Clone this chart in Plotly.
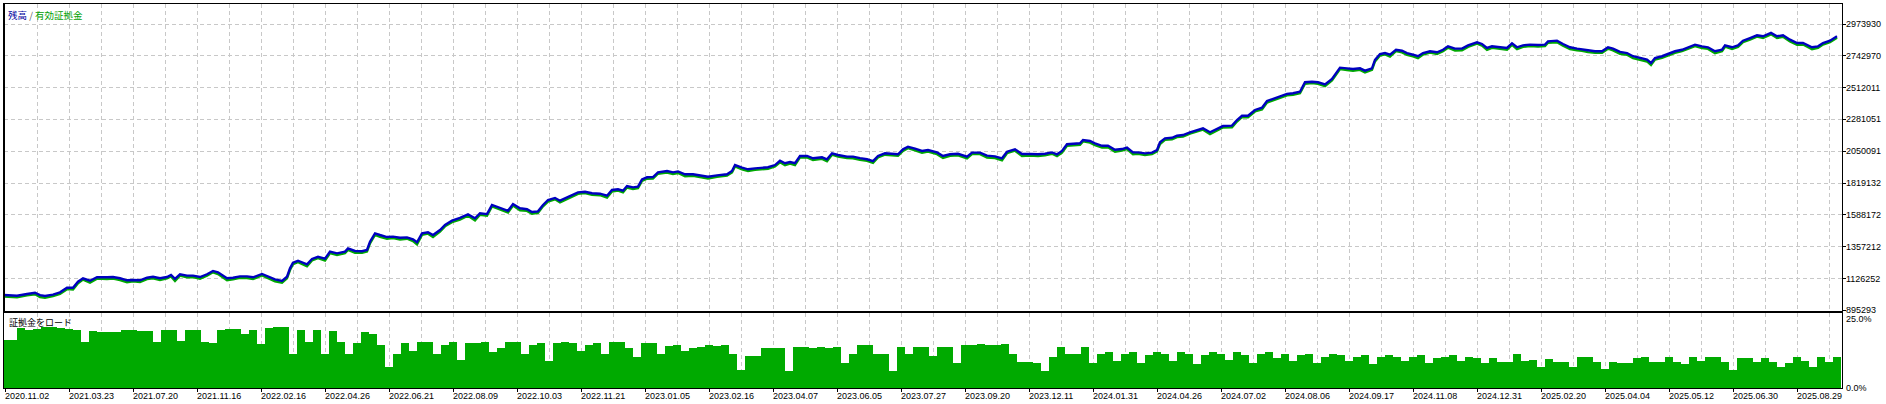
import plotly.graph_objects as go

# ---------------- data ----------------
trade_no = [0, 13, 23, 31, 36, 41, 49, 56, 63, 69,
            74, 79, 86, 93, 103, 109, 116, 123, 129, 136,
            143, 149, 156, 163, 167, 171, 176, 183, 189, 196,
            203, 209, 214, 223, 229, 236, 243, 249, 258, 264,
            271, 278, 283, 286, 289, 294, 299, 303, 308, 314,
            321, 326, 333, 341, 344, 351, 358, 363, 366, 371,
            376, 383, 389, 396, 403, 409, 413, 418, 424, 429,
            436, 441, 448, 456, 464, 471, 476, 483, 488, 496,
            504, 509, 516, 523, 528, 534, 539, 544, 551, 556,
            561, 566, 574, 581, 588, 596, 603, 608, 614, 619,
            623, 629, 634, 638, 643, 649, 654, 663, 669, 674,
            681, 689, 696, 704, 713, 723, 728, 731, 738, 744,
            751, 758, 764, 771, 776, 781, 786, 791, 796, 803,
            809, 818, 823, 828, 834, 843, 849, 856, 863, 869,
            874, 881, 888, 894, 899, 904, 911, 918, 924, 933,
            939, 946, 954, 963, 968, 976, 983, 991, 998, 1003,
            1011, 1018, 1026, 1034, 1041, 1048, 1053, 1058, 1063, 1069,
            1076, 1079, 1086, 1091, 1098, 1104, 1111, 1118, 1123, 1129,
            1134, 1141, 1148, 1153, 1156, 1161, 1168, 1173, 1179, 1186,
            1193, 1199, 1206, 1213, 1219, 1228, 1233, 1238, 1244, 1251,
            1258, 1263, 1269, 1276, 1283, 1289, 1296, 1301, 1308, 1314,
            1321, 1328, 1333, 1336, 1343, 1349, 1356, 1361, 1368, 1371,
            1376, 1381, 1386, 1392, 1398, 1403, 1409, 1414, 1419, 1426,
            1433, 1439, 1444, 1451, 1458, 1464, 1473, 1478, 1483, 1488,
            1494, 1503, 1508, 1513, 1519, 1526, 1534, 1541, 1544, 1553,
            1559, 1566, 1573, 1578, 1584, 1591, 1598, 1604, 1609, 1616,
            1623, 1629, 1636, 1643, 1647, 1651, 1658, 1664, 1671, 1678,
            1684, 1691, 1698, 1704, 1711, 1718, 1721, 1728, 1734, 1739,
            1746, 1753, 1759, 1767, 1773, 1779, 1786, 1793, 1799, 1808,
            1814, 1819, 1826, 1833]

balance = [1006000, 1001000, 1014000, 1023000, 1006000, 999000, 1009000, 1026000, 1059000, 1059000,
           1103000, 1128000, 1110000, 1135000, 1135000, 1137000, 1128000, 1113000, 1115000, 1113000,
           1132000, 1139000, 1128000, 1137000, 1152000, 1123000, 1157000, 1147000, 1147000, 1137000,
           1157000, 1181000, 1171000, 1128000, 1132000, 1142000, 1142000, 1135000, 1159000, 1142000,
           1120000, 1108000, 1139000, 1200000, 1241000, 1255000, 1241000, 1229000, 1268000, 1284000,
           1270000, 1321000, 1309000, 1321000, 1345000, 1326000, 1324000, 1333000, 1393000, 1454000,
           1442000, 1427000, 1430000, 1422000, 1425000, 1411000, 1389000, 1454000, 1462000, 1442000,
           1478000, 1515000, 1546000, 1566000, 1592000, 1563000, 1600000, 1594000, 1660000, 1640000,
           1618000, 1667000, 1636000, 1629000, 1609000, 1614000, 1660000, 1696000, 1711000, 1691000,
           1708000, 1725000, 1752000, 1756000, 1745000, 1742000, 1727000, 1769000, 1774000, 1764000,
           1798000, 1788000, 1793000, 1846000, 1861000, 1863000, 1897000, 1907000, 1897000, 1904000,
           1883000, 1883000, 1873000, 1865000, 1875000, 1883000, 1907000, 1950000, 1931000, 1919000,
           1926000, 1931000, 1934000, 1950000, 1981000, 1963000, 1972000, 1963000, 2016000, 2016000,
           1999000, 2006000, 1992000, 2035000, 2023000, 2011000, 2011000, 2000000, 1992000, 1979000,
           2016000, 2035000, 2030000, 2028000, 2064000, 2083000, 2069000, 2052000, 2059000, 2042000,
           2016000, 2028000, 2032000, 2011000, 2040000, 2040000, 2018000, 2013000, 1999000, 2047000,
           2064000, 2030000, 2030000, 2028000, 2032000, 2042000, 2028000, 2052000, 2101000, 2103000,
           2108000, 2132000, 2125000, 2108000, 2090000, 2090000, 2061000, 2066000, 2076000, 2042000,
           2042000, 2035000, 2040000, 2059000, 2115000, 2144000, 2148000, 2163000, 2168000, 2188000,
           2204000, 2217000, 2188000, 2212000, 2233000, 2236000, 2277000, 2308000, 2308000, 2350000,
           2366000, 2415000, 2430000, 2446000, 2466000, 2471000, 2482000, 2551000, 2555000, 2551000,
           2536000, 2575000, 2623000, 2657000, 2652000, 2647000, 2652000, 2635000, 2652000, 2713000,
           2756000, 2763000, 2751000, 2787000, 2780000, 2763000, 2751000, 2740000, 2763000, 2776000,
           2769000, 2787000, 2812000, 2795000, 2795000, 2819000, 2841000, 2829000, 2800000, 2812000,
           2807000, 2800000, 2834000, 2805000, 2819000, 2824000, 2822000, 2824000, 2848000, 2853000,
           2829000, 2805000, 2795000, 2792000, 2783000, 2776000, 2776000, 2805000, 2795000, 2771000,
           2763000, 2740000, 2727000, 2715000, 2691000, 2727000, 2740000, 2756000, 2776000, 2787000,
           2805000, 2824000, 2812000, 2805000, 2776000, 2787000, 2819000, 2805000, 2819000, 2853000,
           2872000, 2892000, 2885000, 2909000, 2885000, 2892000, 2860000, 2836000, 2836000, 2805000,
           2812000, 2836000, 2853000, 2885000]

equity = [995000, 989000, 1004000, 1012000, 992000, 987000, 999000, 1015000, 1049000, 1046000,
          1092000, 1118000, 1096000, 1125000, 1123000, 1126000, 1115000, 1099000, 1105000, 1101000,
          1122000, 1128000, 1115000, 1127000, 1141000, 1109000, 1147000, 1135000, 1136000, 1124000,
          1146000, 1171000, 1158000, 1114000, 1121000, 1132000, 1130000, 1122000, 1149000, 1129000,
          1106000, 1095000, 1128000, 1188000, 1230000, 1245000, 1228000, 1215000, 1257000, 1274000,
          1257000, 1310000, 1296000, 1311000, 1334000, 1312000, 1312000, 1322000, 1381000, 1443000,
          1429000, 1415000, 1419000, 1410000, 1415000, 1398000, 1374000, 1443000, 1452000, 1428000,
          1467000, 1505000, 1535000, 1554000, 1582000, 1548000, 1589000, 1582000, 1649000, 1626000,
          1605000, 1656000, 1622000, 1617000, 1596000, 1603000, 1650000, 1685000, 1701000, 1678000,
          1697000, 1715000, 1741000, 1746000, 1733000, 1731000, 1713000, 1758000, 1764000, 1752000,
          1787000, 1775000, 1782000, 1834000, 1851000, 1852000, 1887000, 1896000, 1884000, 1892000,
          1869000, 1872000, 1861000, 1852000, 1864000, 1873000, 1896000, 1940000, 1918000, 1907000,
          1915000, 1919000, 1923000, 1940000, 1970000, 1949000, 1961000, 1950000, 2006000, 2005000,
          1986000, 1995000, 1978000, 2025000, 2011000, 2000000, 1999000, 1987000, 1980000, 1965000,
          2005000, 2025000, 2018000, 2017000, 2053000, 2073000, 2056000, 2039000, 2048000, 2029000,
          2002000, 2017000, 2021000, 1998000, 2030000, 2029000, 2005000, 2001000, 1985000, 2036000,
          2054000, 2016000, 2019000, 2016000, 2021000, 2032000, 2015000, 2041000, 2090000, 2093000,
          2097000, 2122000, 2113000, 2095000, 2077000, 2079000, 2047000, 2055000, 2066000, 2028000,
          2031000, 2023000, 2029000, 2049000, 2103000, 2133000, 2137000, 2153000, 2157000, 2178000,
          2193000, 2207000, 2174000, 2201000, 2223000, 2224000, 2266000, 2298000, 2296000, 2339000,
          2354000, 2404000, 2420000, 2435000, 2456000, 2459000, 2471000, 2540000, 2545000, 2539000,
          2523000, 2564000, 2612000, 2647000, 2640000, 2635000, 2641000, 2622000, 2641000, 2702000,
          2745000, 2753000, 2738000, 2777000, 2768000, 2750000, 2739000, 2726000, 2752000, 2766000,
          2757000, 2776000, 2802000, 2782000, 2783000, 2808000, 2831000, 2817000, 2786000, 2801000,
          2795000, 2787000, 2823000, 2791000, 2808000, 2814000, 2810000, 2813000, 2838000, 2842000,
          2816000, 2791000, 2783000, 2780000, 2770000, 2764000, 2765000, 2795000, 2782000, 2757000,
          2751000, 2726000, 2714000, 2702000, 2676000, 2716000, 2729000, 2746000, 2765000, 2777000,
          2794000, 2814000, 2800000, 2793000, 2762000, 2776000, 2809000, 2792000, 2808000, 2843000,
          2861000, 2882000, 2873000, 2899000, 2872000, 2881000, 2847000, 2823000, 2825000, 2791000,
          2800000, 2825000, 2842000, 2875000]

# margin load (%), one bar per 8 deals
margin_load = [
    16.1, 16.1, 20.1, 19.4, 19.8, 20.3, 20.3, 20.1, 19.8, 19.4,
    15.3, 18.9, 18.6, 18.8, 18.8, 19.2, 19.2, 18.9, 18.9, 15.5,
    19.4, 19.4, 15.8, 19.4, 19.5, 15.3, 15.0, 19.2, 19.7, 19.7,
    18.0, 19.4, 14.7, 20.1, 20.3, 20.5, 11.4, 19.2, 15.5, 19.2,
    11.4, 18.9, 15.3, 11.4, 14.9, 18.6, 18.0, 14.2, 6.9, 11.4,
    15.0, 12.5, 15.5, 15.5, 11.5, 14.5, 15.5, 9.5, 15.0, 15.0,
    15.5, 12.0, 13.5, 15.5, 15.5, 11.5, 14.5, 15.0, 9.0, 15.0,
    15.5, 15.0, 12.5, 14.5, 15.0, 11.5, 15.5, 15.5, 13.5, 10.5,
    15.0, 15.0, 11.5, 14.0, 14.5, 12.5, 13.5,
    13.8, 14.2, 14.1, 14.2, 11.4, 6.1, 10.8, 10.8, 13.4, 13.4,
    13.4, 5.6, 13.8, 13.8, 13.4, 13.8, 13.4, 13.6, 8.3, 11.4,
    14.2, 14.4, 11.4, 11.2, 5.8, 13.6, 11.2, 13.6, 13.8, 10.8,
    13.6, 13.6, 8.3, 14.4, 14.5, 14.7, 14.5, 14.2, 14.7, 11.4,
    8.6, 8.6, 8.3, 5.8, 10.5, 13.8, 11.4, 11.4, 13.8, 8.3,
    11.5, 12.0, 9.0, 11.5, 12.0, 8.5, 11.0, 12.0, 11.5, 9.0,
    12.0, 11.5, 8.0, 11.0, 12.0, 11.5, 9.5, 12.0, 11.0, 8.5,
    11.5, 12.0, 10.0, 11.5, 9.0, 11.0, 11.5, 8.5, 10.5, 11.5,
    11.0, 9.0, 10.5, 11.0, 8.0, 10.5, 11.0, 10.5, 9.0, 10.5,
    11.0, 8.5, 10.0, 10.5, 11.0, 9.0, 10.5, 10.0, 8.5, 10.0,
    8.6, 8.6, 11.2, 8.9, 9.4, 6.9, 9.7, 8.6, 8.6, 6.9,
    10.5, 10.3, 8.6, 6.4, 8.6, 8.3, 8.3, 10.1, 10.5, 8.6,
    8.6, 10.3, 8.6, 8.1, 10.3, 8.9, 10.3, 10.5, 8.6, 6.0,
    10.1, 10.1, 8.6, 10.1, 8.6, 6.9, 8.3, 10.3, 8.9, 6.9,
    10.3, 8.6, 10.3]
bar_trade = [1 + 8 * i for i in range(len(margin_load))]

date_labels = ["2020.11.02", "2021.03.23", "2021.07.20", "2021.11.16", "2022.02.16",
               "2022.04.26", "2022.06.21", "2022.08.09", "2022.10.03", "2022.11.21",
               "2023.01.05", "2023.02.16", "2023.04.07", "2023.06.05", "2023.07.27",
               "2023.09.20", "2023.12.11", "2024.01.31", "2024.04.26", "2024.07.02",
               "2024.08.06", "2024.09.17", "2024.11.08", "2024.12.31", "2025.02.20",
               "2025.04.04", "2025.05.12", "2025.06.30", "2025.08.29"]
date_ticks = [1 + 64 * i for i in range(len(date_labels))]
grid_minor = [33 + 64 * i for i in range(len(date_labels))]

y_ticks = [895293, 1126252, 1357212, 1588172, 1819132, 2050091,
           2281051, 2512011, 2742970, 2973930]
load_ticks = [0, 25]
load_labels = ["0.0%", "25.0%"]

# ---------------- style ----------------
BLUE = "#0000C0"
GREEN = "#00AA00"
GRID = "#C8C8C8"
FONT = "Liberation Sans, Arial, sans-serif"
CJK = "Noto Sans CJK JP, sans-serif"

fig = go.Figure()
fig.add_trace(go.Scatter(x=trade_no, y=equity, mode="lines",
                         line=dict(color=GREEN, width=2.4), xaxis="x", yaxis="y",
                         hoverinfo="skip", showlegend=False))
fig.add_trace(go.Scatter(x=trade_no, y=balance, mode="lines",
                         line=dict(color=BLUE, width=2.4), xaxis="x", yaxis="y",
                         showlegend=False))
fig.add_trace(go.Bar(x=bar_trade, y=margin_load, width=8,
                     marker=dict(color=GREEN, line=dict(width=0)),
                     xaxis="x2", yaxis="y2", showlegend=False))

xcommon = dict(range=[0, 1838], showgrid=True, gridcolor=GRID, gridwidth=1,
               griddash="4px,3px", zeroline=False, showline=True, mirror=True,
               linecolor="black", linewidth=1, tickvals=date_ticks,
               showticklabels=False,
               minor=dict(tickvals=grid_minor, showgrid=True, gridcolor=GRID,
                          griddash="4px,3px", gridwidth=1, ticks=""))

annotations = [
    dict(xref="paper", yref="paper", x=0, y=1, xanchor="left", yanchor="top",
         xshift=2, yshift=-2, showarrow=False,
         text='<span style="color:#0000A0">残高</span>'
              '<span style="color:#606060"> / </span>'
              '<span style="color:#00A000">有効証拠金</span>',
         font=dict(family=CJK, size=9.5)),
    dict(xref="paper", yref="paper", x=0, y=0.1953, xanchor="left",
         yanchor="top", xshift=3, yshift=-1, showarrow=False,
         text="証拠金をロード", font=dict(family=CJK, size=9, color="black")),
]
# y-axis value labels of the main panel (right side)
for v in y_ticks:
    annotations.append(dict(xref="paper", yref="y", x=1, y=v, xanchor="left",
                            yanchor="middle", xshift=2, showarrow=False,
                            text=str(v), font=dict(family=FONT, size=9, color="black")))
# margin-load labels
annotations.append(dict(xref="paper", yref="y2", x=1, y=load_ticks[1], xanchor="left",
                        yanchor="top", xshift=2, yshift=1, showarrow=False,
                        text=load_labels[1], font=dict(family=FONT, size=9, color="black")))
annotations.append(dict(xref="paper", yref="y2", x=1, y=load_ticks[0], xanchor="left",
                        yanchor="middle", xshift=2, showarrow=False,
                        text=load_labels[0], font=dict(family=FONT, size=9, color="black")))
# date labels (left-aligned at their tick)
for t, lab in zip(date_ticks, date_labels):
    annotations.append(dict(xref="x2", yref="paper", x=t, y=0, xanchor="left",
                            yanchor="top", xshift=-2, yshift=-1, showarrow=False,
                            text=lab, font=dict(family=FONT, size=9, color="black")))

fig.update_layout(
    width=1886, height=404,
    margin=dict(l=4, r=44, t=4, b=16),
    paper_bgcolor="white", plot_bgcolor="white",
    bargap=0,
    xaxis=dict(**xcommon, domain=[0, 1], anchor="y", ticks=""),
    xaxis2=dict(**xcommon, domain=[0, 1], anchor="y2", matches="x",
                ticks="outside", ticklen=3, tickcolor="black"),
    yaxis=dict(domain=[0.2005, 1], range=[890211, 3119215], side="right",
               tickvals=y_ticks, showticklabels=False,
               ticks="outside", ticklen=3, tickcolor="black",
               showgrid=True, gridcolor=GRID, griddash="4px,3px", gridwidth=1,
               zeroline=False, showline=True, mirror=True, linecolor="black",
               linewidth=1),
    yaxis2=dict(domain=[0, 0.1953], range=[0, 25], side="right",
                showticklabels=False, showgrid=False, zeroline=False,
                showline=True, mirror=True, linecolor="black", linewidth=1,
                ticks=""),
    annotations=annotations,
    shapes=[dict(type="line", xref="paper", yref="paper", x0=0, x1=0,
                 y0=0.2005, y1=1, line=dict(color="black", width=2))],
)

fig.write_html("out.html",
               config={"displayModeBar": False, "staticPlot": True},
               post_script="document.body.style.margin='0';"
                           "document.body.style.overflow='hidden';")
